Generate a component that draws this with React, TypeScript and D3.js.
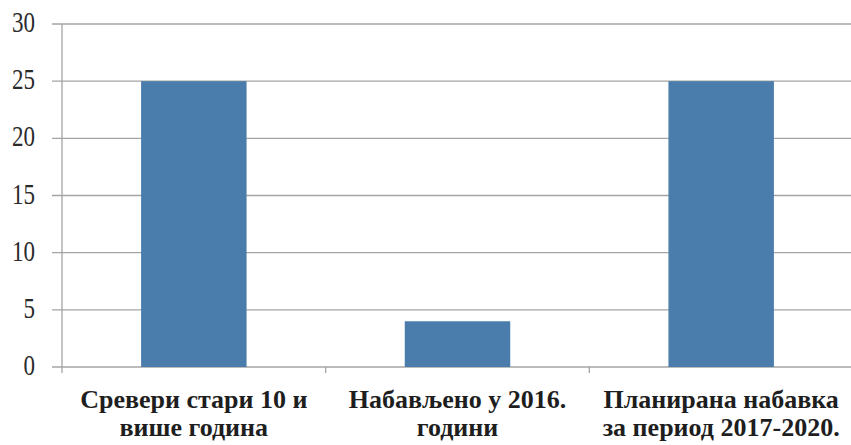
import React, { useEffect, useRef } from "react";
import * as d3 from "d3";

const categories = ["servers", "bought2016", "planned"];
const categoryLines = [
  ["Сревери стари 10 и", "више година"],
  ["Набављено у 2016.", "години"],
  ["Планирана набавка", "за период 2017-2020."],
];
const values = [25, 4, 25];
const yTicks = [0, 5, 10, 15, 20, 25, 30];

const width = 851;
const height = 445;
const serif = "'Liberation Serif', 'Times New Roman', 'DejaVu Serif', serif";

const App: React.FC = () => {
  const svgRef = useRef<SVGSVGElement | null>(null);

  useEffect(() => {
    const svg = d3.select(svgRef.current);
    svg.selectAll("*").remove();

    const margin = { top: 24, right: -2, bottom: 78, left: 62 };
    const innerWidth = width - margin.left - margin.right;
    const innerHeight = height - margin.top - margin.bottom;

    const x = d3
      .scaleBand()
      .domain(categories)
      .range([0, innerWidth])
      .paddingInner(0.6)
      .paddingOuter(0.3);

    const y = d3.scaleLinear().domain([0, 30]).range([innerHeight, 0]);

    svg.append("rect").attr("width", width).attr("height", height).attr("fill", "#ffffff");

    const chart = svg
      .append("g")
      .attr("transform", `translate(${margin.left},${margin.top})`);

    // gridlines
    chart
      .selectAll("line.grid")
      .data(yTicks)
      .join("line")
      .attr("class", "grid")
      .attr("x1", -10)
      .attr("x2", innerWidth)
      .attr("y1", d => y(d))
      .attr("y2", d => y(d))
      .attr("stroke", "#a4a4a4")
      .attr("stroke-width", 1.3);

    // y tick labels (scan looks vertically stretched)
    chart
      .selectAll("text.ytick")
      .data(yTicks)
      .join("text")
      .attr("class", "ytick")
      .attr("transform", d => `translate(-27,${y(d) + 8}) scale(1,1.25)`)
      .attr("text-anchor", "end")
      .style("font-family", serif)
      .attr("font-size", 23)
      .attr("fill", "#2a2a2a")
      .text(d => String(d));

    // vertical axis line
    chart
      .append("line")
      .attr("x1", 0)
      .attr("x2", 0)
      .attr("y1", 0)
      .attr("y2", innerHeight + 6)
      .attr("stroke", "#a4a4a4")
      .attr("stroke-width", 1.3);

    // category separators
    const bandW = innerWidth / categories.length;
    categories.slice(1).forEach((_, i) => {
      const px = (i + 1) * bandW;
      chart
        .append("line")
        .attr("x1", px)
        .attr("x2", px)
        .attr("y1", innerHeight)
        .attr("y2", innerHeight + 6)
        .attr("stroke", "#a4a4a4")
        .attr("stroke-width", 1.3);
    });

    // bars
    chart
      .selectAll("rect.bar")
      .data(values)
      .join("rect")
      .attr("class", "bar")
      .attr("x", (_, i) => x(categories[i])!)
      .attr("y", d => y(d))
      .attr("width", x.bandwidth())
      .attr("height", d => innerHeight - y(d))
      .attr("fill", "#4a7dab");

    // category labels
    categoryLines.forEach((lines, i) => {
      const cx = x(categories[i])! + x.bandwidth() / 2;
      const t = chart
        .append("text")
        .attr("x", cx)
        .attr("y", innerHeight + 41)
        .attr("text-anchor", "middle")
        .style("font-family", serif)
        .attr("font-weight", "bold")
        .attr("font-size", 26)
        .attr("fill", "#1e1e1e");
      lines.forEach((line, j) => {
        t.append("tspan").attr("x", cx).attr("dy", j === 0 ? 0 : 28).text(line);
      });
    });
  }, []);

  return (
    <div style={{ position: "absolute", left: 0, top: 0 }}>
      <svg ref={svgRef} width={width} height={height} style={{ display: "block" }}></svg>
    </div>
  );
};

export default App;
